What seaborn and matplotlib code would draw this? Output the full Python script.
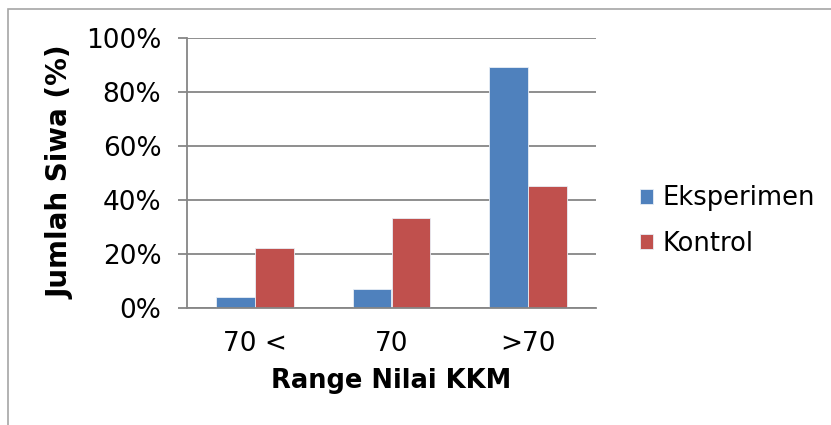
import matplotlib
matplotlib.use("Agg")
import matplotlib.pyplot as plt
import seaborn as sns
import pandas as pd
from matplotlib.patches import Rectangle
from matplotlib.ticker import FuncFormatter

categories = ["70 <", "70", ">70"]
eksperimen = [4, 7, 89]
kontrol = [22, 33, 45]
series_names = ["Eksperimen", "Kontrol"]
colors = ["#4F81BD", "#C0504D"]
yticks = [0, 20, 40, 60, 80, 100]

df = pd.DataFrame({
    "Range": categories * 2,
    "Nilai": eksperimen + kontrol,
    "Kelompok": [series_names[0]] * 3 + [series_names[1]] * 3,
})

sns.set_style("white")
plt.rcParams["font.family"] = ["DejaVu Sans"]
plt.rcParams["text.color"] = "black"
plt.rcParams["axes.labelcolor"] = "black"

W, H = 831, 425
fig = plt.figure(figsize=(W / 100, H / 100), dpi=100)
ax = fig.add_axes([187 / W, (H - 307.5) / H, (596 - 187) / W, (307.5 - 37.5) / H])

sns.barplot(data=df, x="Range", y="Nilai", hue="Kelompok", order=categories,
            hue_order=series_names, palette=colors, width=0.57, saturation=1,
            edgecolor="#E8EEF6", linewidth=0.6, ax=ax, legend=True)

ax.set_ylim(0, 100)
ax.set_xlim(-0.5, 2.5)
ax.set_yticks(yticks)
ax.yaxis.set_major_formatter(FuncFormatter(lambda v, p: f"{int(v)}%"))
ax.grid(axis="y", color="#868686", linewidth=1.3)
ax.set_axisbelow(True)
for s in ["top", "right"]:
    ax.spines[s].set_visible(False)
ax.spines["left"].set_color("#868686")
ax.spines["left"].set_linewidth(1.3)
ax.spines["bottom"].set_color("#868686")
ax.spines["bottom"].set_linewidth(1.3)
ax.tick_params(axis="y", length=6.5, width=1.3, color="#868686", pad=12,
               labelsize=19, labelcolor="black", left=True)
ax.tick_params(axis="x", length=0, pad=17, labelsize=19, labelcolor="black")

ax.set_xlabel("Range Nilai KKM", fontsize=18.5, fontweight="bold", labelpad=8)
ax.set_ylabel("Jumlah Siwa (%)", fontsize=20, fontweight="bold", labelpad=8)

leg = ax.get_legend()
handles = leg.legend_handles
leg.remove()
fig.legend(handles, series_names, loc="center left",
           bbox_to_anchor=(627 / W, (H - 221) / H), frameon=False,
           fontsize=18.5, handlelength=0.5, handleheight=0.5,
           handletextpad=0.4, labelspacing=0.75, borderpad=0)

fig.patches.append(Rectangle((8 / W, -0.05), 1.05, (H - 9) / H + 0.05,
                             transform=fig.transFigure, fill=False,
                             edgecolor="#A6A6A6", linewidth=1.2))

fig.savefig("out.png", dpi=100)
